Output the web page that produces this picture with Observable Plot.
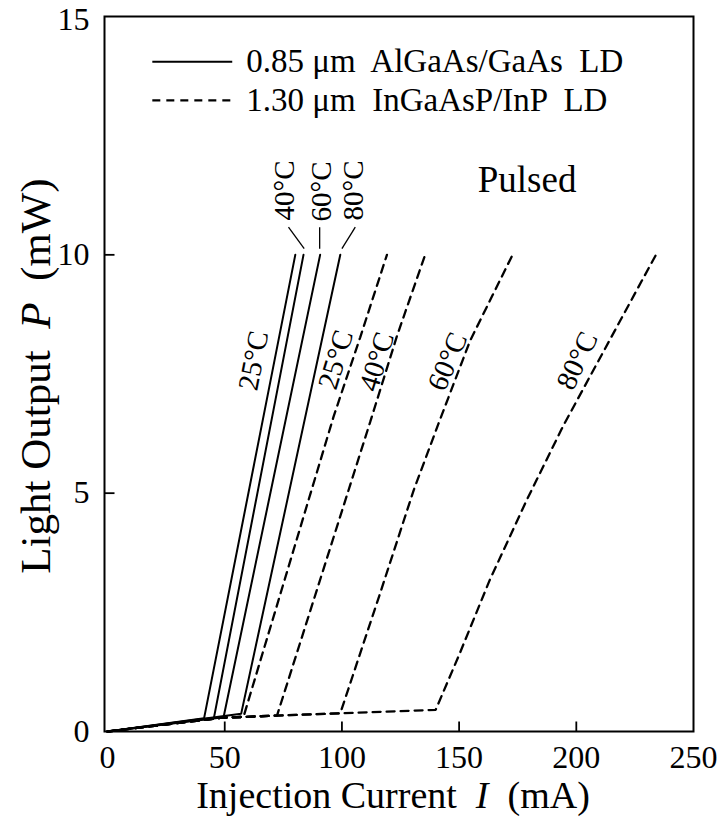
<!DOCTYPE html>
<html><head><meta charset="utf-8">
<script src="https://cdn.jsdelivr.net/npm/d3@7"></script>
<script src="https://cdn.jsdelivr.net/npm/@observablehq/plot@0.6"></script>
<style>body{margin:0;background:#fff} #chart{width:719px;height:830px}</style>
</head><body><div id="chart"></div>
<script>
// ---- data (I in mA, P in mW) ----
const xTicks = [0, 50, 100, 150, 200, 250];
const yTicks = [0, 5, 10, 15];
const temps = ["25°C", "40°C", "60°C", "80°C"];
// 0.85 µm AlGaAs/GaAs LD (solid)
const algaas25 = [[0, 0], [41.2, 0.28], [80.1, 10]];
const algaas40 = [[0, 0], [45.4, 0.29], [83.6, 10]];
const algaas60 = [[0, 0], [49.5, 0.30], [90.7, 10]];
const algaas80 = [[0, 0], [57.0, 0.37], [99.3, 10]];
// 1.30 µm InGaAsP/InP LD (dashed)
const ingaasp25 = [[0, 0], [49, 0.29], [58, 0.306], [96.4, 6.6], [107.8, 8.27], [119.2, 10]];
const ingaasp40 = [[0, 0], [49, 0.29], [58, 0.306], [72.3, 0.333], [112.1, 6.5], [123.5, 8.3], [135.5, 10]];
const ingaasp60 = [[0, 0], [49, 0.29], [58, 0.306], [72.3, 0.333], [99.3, 0.382], [116.3, 2.9], [130.6, 5.06], [141.9, 6.55], [154.7, 8.2], [172.8, 10]];
const ingaasp80 = [[0, 0], [49, 0.29], [58, 0.306], [72.3, 0.333], [99.3, 0.382], [140, 0.455], [150.2, 1.63], [163, 3.17], [178.8, 4.85], [194.5, 6.42], [228, 9.46], [234, 10]];
const legendLabels = ["0.85 μm  AlGaAs/GaAs  LD", "1.30 μm  InGaAsP/InP  LD"];
const noteLabel = "Pulsed";

// ---- annotation placement (data units) ----
const solidLabelPos = [[62.3, 7.78, -79], [75.4, 11.35, -90], [91.2, 11.33, -90], [105.2, 11.35, -90]];
const dashedLabelPos = [[97.4, 7.8, -73], [114.9, 7.76, -73], [145.1, 7.76, -67], [200.4, 7.78, -65]];
const leaderPos = [[77.2, 10.58, 83.9, 10.13], [90.5, 10.58, 90.5, 10.13], [105.7, 10.58, 100.0, 10.13]];
const legendPos = [[19.1, 53.2, 59.2, 14.05], [19.1, 53.2, 59.2, 13.24]];
const notePos = [179, 11.56];

const font = '"Liberation Serif","Times New Roman",serif';
const toRows = (arr, name) => arr.map(([I, P]) => ({I, P, name}));
const solid = [algaas25, algaas40, algaas60, algaas80].flatMap((a, i) => toRows(a, temps[i]));
const dashed = [ingaasp25, ingaasp40, ingaasp60, ingaasp80].flatMap((a, i) => toRows(a, temps[i]));
const solidLabels = temps.map((t, i) => ({t, x: solidLabelPos[i][0], y: solidLabelPos[i][1], r: solidLabelPos[i][2]}));
const dashedLabels = temps.map((t, i) => ({t, x: dashedLabelPos[i][0], y: dashedLabelPos[i][1], r: dashedLabelPos[i][2]}));
const leaders = leaderPos.map(([x1, y1, x2, y2]) => ({x1, y1, x2, y2}));
const legend = legendLabels.map((t, i) => ({t, x1: legendPos[i][0], x2: legendPos[i][1], xt: legendPos[i][2], y: legendPos[i][3], dash: i === 1}));

const W = 719, H = 830, mL = 104, mR = 26, mT = 16, mB = 99, tickPx = 10;
const xDomain = [-1.3, 250], yDomain = [0, 15];
// inward tick length expressed in data units of each scale
const tickY = tickPx * (yDomain[1] - yDomain[0]) / (H - mT - mB);
const tickX = tickPx * (xDomain[1] - xDomain[0]) / (W - mL - mR);
const xTickMarks = xTicks.slice(1, -1).map(v => ({x: v, y1: yDomain[0], y2: yDomain[0] + tickY}));
const yTickMarks = yTicks.slice(1, -1).map(v => ({y: v, x1: xDomain[0], x2: xDomain[0] + tickX}));

const plot = Plot.plot({
  width: W,
  height: H,
  marginLeft: mL,
  marginRight: mR,
  marginTop: mT,
  marginBottom: mB,
  style: {fontFamily: font, fontSize: "32px", color: "#000", background: "#fff", whiteSpace: "pre", overflow: "visible"},
  x: {domain: xDomain},
  y: {domain: yDomain},
  marks: [
    Plot.axisX({ticks: xTicks, tickSize: 0, tickPadding: 14, label: null, fontSize: 32}),
    Plot.axisY({ticks: yTicks.slice(0, -1), tickSize: 0, tickPadding: 15, label: null, fontSize: 32}),
    Plot.axisY({ticks: yTicks.slice(-1), tickSize: 0, tickPadding: 15, label: null, fontSize: 32, dy: 3}),
    Plot.link(xTickMarks, {x1: "x", x2: "x", y1: "y1", y2: "y2", stroke: "#000", strokeWidth: 1.8}),
    Plot.link(yTickMarks, {x1: "x1", x2: "x2", y1: "y", y2: "y", stroke: "#000", strokeWidth: 1.8}),
    Plot.line(dashed, {x: "I", y: "P", z: "name", stroke: "#000", strokeWidth: 2.3, strokeDasharray: "8,6", strokeLinejoin: "miter"}),
    Plot.line(solid, {x: "I", y: "P", z: "name", stroke: "#000", strokeWidth: 2, strokeLinejoin: "miter"}),
    Plot.link(leaders, {x1: "x1", y1: "y1", x2: "x2", y2: "y2", stroke: "#000", strokeWidth: 1.3}),
    Plot.text(solidLabels, {x: "x", y: "y", text: "t", rotate: "r", fontSize: 29, fill: "#000"}),
    Plot.text(dashedLabels, {x: "x", y: "y", text: "t", rotate: "r", fontSize: 29, fill: "#000"}),
    Plot.link(legend.filter(d => !d.dash), {x1: "x1", x2: "x2", y1: "y", y2: "y", stroke: "#000", strokeWidth: 2}),
    Plot.link(legend.filter(d => d.dash), {x1: "x1", x2: "x2", y1: "y", y2: "y", stroke: "#000", strokeWidth: 2.3, strokeDasharray: "8,6"}),
    Plot.text(legend, {x: "xt", y: "y", text: "t", textAnchor: "start", fontSize: 33, fill: "#000"}),
    Plot.text([noteLabel], {x: () => notePos[0], y: () => notePos[1], text: d => d, fontSize: 37, fill: "#000"}),
    Plot.frame({stroke: "#000", strokeWidth: 2})
  ]
});
document.getElementById("chart").append(plot);

// axis titles with italic symbols
const svg = d3.select(plot);
const xt = svg.append("text")
  .attr("x", 393).attr("y", 808)
  .attr("text-anchor", "middle")
  .attr("font-family", font).attr("font-size", 38).attr("fill", "#000")
  .style("white-space", "pre");
xt.append("tspan").text("Injection Current  ");
xt.append("tspan").attr("font-style", "italic").text("I");
xt.append("tspan").text("  (mA)");
const yt = svg.append("text")
  .attr("transform", "translate(50,376) rotate(-90)")
  .attr("text-anchor", "middle")
  .attr("font-family", font).attr("font-size", 43).attr("fill", "#000")
  .style("white-space", "pre");
yt.append("tspan").text("Light Output  ");
yt.append("tspan").attr("font-style", "italic").text("P");
yt.append("tspan").text("  (mW)");
</script>
</body></html>
